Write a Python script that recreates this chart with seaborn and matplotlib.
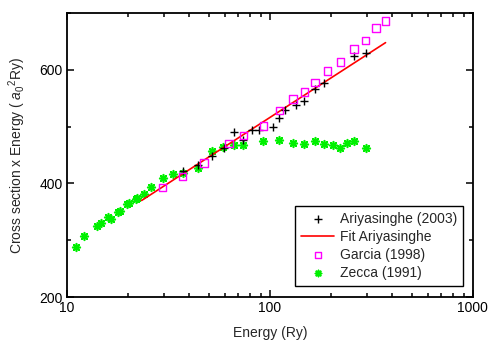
import numpy as np
import pandas as pd
import seaborn as sns
import matplotlib.pyplot as plt
from matplotlib.ticker import LogLocator, NullFormatter, MultipleLocator

# Ariyasinghe (2003) measurements
ariy_energy = [37.1, 44.4, 51.9, 59.3, 66.5, 73.9, 81.3, 88.6, 103.5, 111.1, 118.6,
               134.3, 147.6, 167.6, 185.2, 259.3, 296]
ariy_value = [422, 432, 449, 463, 491, 476, 494, 494, 500, 515, 529,
              539, 546, 567, 577, 625, 629]

# Fit to Ariyasinghe (straight on log energy)
fit_energy = [23.3, 371.5]
fit_value = [370, 648]

# Garcia (1998)
garcia_energy = [29.6, 37.0, 47.3, 62.8, 73.9, 92.7, 111.1, 130.2, 147.6, 166.6,
                 192.4, 222, 259.3, 296, 332.7, 371.5]
garcia_value = [393, 412, 436, 470, 485, 501, 529, 549, 561, 578,
                598, 614, 637, 652, 674, 686]

# Zecca (1991)
zecca_energy = [11.07, 12.16, 14.05, 14.71, 15.97, 16.47, 17.89, 18.24, 19.68, 20.2,
                21.87, 22.04, 23.95, 25.84, 29.6, 33.2, 37.1, 44.4, 51.6, 58.9,
                66.7, 73.9, 92.7, 111.1, 129.8, 147.6, 166.6, 185.2, 203.7, 222,
                240.3, 259.3, 296]
zecca_value = [289, 308, 325, 331, 341, 337, 350, 351, 364, 365,
               373, 375, 382, 393, 409, 417, 418, 427, 457, 464,
               467, 467, 475, 477, 472, 469, 474, 470, 467, 463,
               472, 475, 463]

sns.set_style('ticks')
plt.rcParams['font.family'] = ['Liberation Sans', 'DejaVu Sans']
plt.rcParams['mathtext.fontset'] = 'custom'
plt.rcParams['mathtext.rm'] = 'Liberation Sans'
plt.rcParams['mathtext.it'] = 'Liberation Sans:italic'

fig = plt.figure(figsize=(4.93, 3.45), dpi=100)
ax = fig.add_axes([0.136, 0.139, 0.823, 0.823])

sns.scatterplot(x=ariy_energy, y=ariy_value, marker='+', color='black', s=40,
                linewidth=1.0, ax=ax, label='Ariyasinghe (2003)', zorder=4)
sns.lineplot(x=fit_energy, y=fit_value, color='#ff0000', linewidth=1.2, ax=ax,
             label='Fit Ariyasinghe', zorder=3)
sns.scatterplot(x=garcia_energy, y=garcia_value, marker='s', facecolor='none',
                edgecolor='#ff00ff', s=28, linewidth=1.0, ax=ax,
                label='Garcia (1998)', zorder=5)
sns.scatterplot(x=zecca_energy, y=zecca_value, marker=(8, 2, 0), color='#00f000',
                edgecolor='#00f000', s=30, linewidth=1.2, ax=ax,
                label='Zecca (1991)', zorder=2)

ax.set_xscale('log')
ax.set_xlim(10, 1000)
ax.set_ylim(200, 700)
ax.set_xticks([10, 100, 1000])
ax.set_xticklabels(['10', '100', '1000'])
ax.xaxis.set_minor_locator(LogLocator(base=10, subs=np.arange(2, 10)))
ax.xaxis.set_minor_formatter(NullFormatter())
ax.set_yticks([200, 400, 600])
ax.yaxis.set_minor_locator(MultipleLocator(100))

for s in ax.spines.values():
    s.set_linewidth(1.3)
    s.set_color('black')
ax.tick_params(which='both', direction='in', top=True, right=True, colors='black',
               labelsize=10, width=1.1)
ax.tick_params(which='major', length=5, pad=3)
ax.tick_params(which='minor', length=3)

ax.set_xlabel('Energy (Ry)', fontsize=10, labelpad=8)
ax.set_ylabel(r'Cross section x Energy ( $a_0{}^2$Ry)', fontsize=10, labelpad=8)

leg = ax.legend(loc='lower right', bbox_to_anchor=(0.975, 0.04), borderaxespad=0,
                fontsize=10, frameon=True, fancybox=False, edgecolor='black',
                framealpha=1, markerscale=0.8, handlelength=2.4, handletextpad=0.4,
                borderpad=0.4, labelspacing=0.3)
leg.get_frame().set_linewidth(1.0)

plt.savefig('out.png', dpi=100)
